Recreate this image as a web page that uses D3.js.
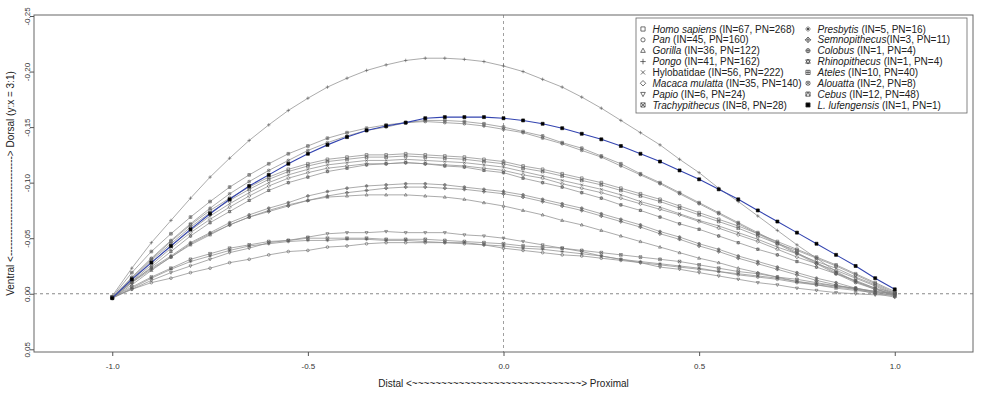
<!DOCTYPE html>
<html>
<head>
<meta charset="utf-8">
<script src="https://cdn.jsdelivr.net/npm/d3@7"></script>
<style>
  body { margin: 0; background: #fff; }
  svg { display: block; font-family: "Liberation Sans", Arial, sans-serif; }
</style>
</head>
<body>
<svg id="chart" width="1000" height="395"></svg>
<script>
// sample positions along the outline, distal (-1) to proximal (1)
const xs = d3.range(41).map(i => +(-1 + i * 0.05).toFixed(2));

// mean outlines, one array per taxon
const homoSapiens = [0.003, -0.014, -0.031, -0.047, -0.062, -0.075, -0.086, -0.096, -0.105, -0.112, -0.117, -0.121, -0.123, -0.125, -0.125, -0.126, -0.125, -0.124, -0.123, -0.121, -0.119, -0.115, -0.112, -0.108, -0.104, -0.100, -0.095, -0.090, -0.085, -0.079, -0.073, -0.067, -0.061, -0.054, -0.047, -0.040, -0.033, -0.026, -0.018, -0.010, -0.002];
const pan = [0.004, -0.004, -0.010, -0.014, -0.019, -0.023, -0.028, -0.031, -0.035, -0.038, -0.039, -0.042, -0.043, -0.045, -0.046, -0.046, -0.046, -0.046, -0.045, -0.044, -0.041, -0.039, -0.037, -0.035, -0.034, -0.032, -0.030, -0.028, -0.026, -0.024, -0.022, -0.020, -0.017, -0.015, -0.013, -0.010, -0.008, -0.006, -0.004, -0.002, 0.000];
const gorilla = [0.004, -0.008, -0.021, -0.033, -0.044, -0.053, -0.062, -0.069, -0.075, -0.080, -0.084, -0.087, -0.088, -0.089, -0.089, -0.089, -0.088, -0.087, -0.085, -0.082, -0.079, -0.075, -0.071, -0.066, -0.062, -0.057, -0.052, -0.047, -0.042, -0.037, -0.032, -0.028, -0.023, -0.019, -0.015, -0.011, -0.008, -0.005, -0.003, -0.001, 0.001];
const pongo = [0.002, -0.023, -0.046, -0.066, -0.086, -0.105, -0.122, -0.138, -0.152, -0.165, -0.176, -0.186, -0.194, -0.201, -0.206, -0.210, -0.212, -0.212, -0.211, -0.209, -0.205, -0.200, -0.193, -0.186, -0.177, -0.167, -0.156, -0.145, -0.134, -0.121, -0.109, -0.095, -0.083, -0.070, -0.057, -0.044, -0.032, -0.020, -0.011, -0.004, 0.001];
const hylobatidae = [0.003, -0.012, -0.028, -0.043, -0.057, -0.070, -0.081, -0.091, -0.100, -0.107, -0.112, -0.116, -0.118, -0.120, -0.120, -0.121, -0.120, -0.119, -0.118, -0.116, -0.114, -0.110, -0.106, -0.102, -0.098, -0.094, -0.089, -0.083, -0.078, -0.072, -0.066, -0.061, -0.055, -0.049, -0.042, -0.036, -0.029, -0.023, -0.015, -0.008, 0.000];
const macaca = [0.003, -0.011, -0.026, -0.041, -0.055, -0.067, -0.078, -0.088, -0.097, -0.104, -0.109, -0.113, -0.115, -0.117, -0.117, -0.118, -0.117, -0.116, -0.115, -0.113, -0.111, -0.107, -0.104, -0.099, -0.095, -0.091, -0.086, -0.081, -0.076, -0.071, -0.065, -0.059, -0.053, -0.047, -0.040, -0.033, -0.027, -0.021, -0.014, -0.007, 0.001];
const papio = [0.003, -0.004, -0.012, -0.019, -0.025, -0.031, -0.037, -0.041, -0.046, -0.048, -0.051, -0.054, -0.055, -0.055, -0.056, -0.055, -0.055, -0.055, -0.053, -0.052, -0.050, -0.047, -0.044, -0.041, -0.038, -0.034, -0.031, -0.028, -0.024, -0.022, -0.019, -0.016, -0.013, -0.010, -0.008, -0.005, -0.003, -0.001, 0.000, 0.001, 0.001];
const trachypithecus = [0.003, -0.006, -0.015, -0.023, -0.031, -0.036, -0.041, -0.044, -0.047, -0.048, -0.050, -0.050, -0.050, -0.050, -0.049, -0.049, -0.049, -0.048, -0.047, -0.046, -0.045, -0.043, -0.042, -0.041, -0.039, -0.037, -0.035, -0.033, -0.031, -0.029, -0.026, -0.023, -0.020, -0.018, -0.015, -0.013, -0.010, -0.007, -0.005, -0.002, 0.000];
const presbytis = [0.004, -0.005, -0.014, -0.022, -0.029, -0.034, -0.039, -0.043, -0.045, -0.047, -0.048, -0.048, -0.049, -0.049, -0.048, -0.048, -0.047, -0.046, -0.046, -0.044, -0.043, -0.041, -0.040, -0.038, -0.036, -0.034, -0.031, -0.029, -0.027, -0.025, -0.023, -0.020, -0.018, -0.016, -0.014, -0.011, -0.009, -0.007, -0.005, -0.002, 0.000];
const semnopithecus = [0.004, -0.010, -0.022, -0.033, -0.045, -0.054, -0.062, -0.069, -0.074, -0.079, -0.084, -0.088, -0.091, -0.093, -0.095, -0.096, -0.096, -0.095, -0.094, -0.092, -0.090, -0.087, -0.083, -0.079, -0.075, -0.070, -0.065, -0.060, -0.054, -0.049, -0.043, -0.038, -0.032, -0.027, -0.022, -0.017, -0.012, -0.008, -0.004, 0.000, 0.003];
const colobus = [0.004, -0.011, -0.023, -0.034, -0.046, -0.055, -0.064, -0.071, -0.077, -0.082, -0.088, -0.092, -0.095, -0.097, -0.098, -0.099, -0.099, -0.098, -0.096, -0.094, -0.092, -0.089, -0.085, -0.081, -0.077, -0.072, -0.067, -0.062, -0.056, -0.051, -0.045, -0.040, -0.034, -0.029, -0.024, -0.019, -0.014, -0.010, -0.005, -0.001, 0.002];
const rhinopithecus = [0.004, -0.010, -0.024, -0.038, -0.052, -0.064, -0.074, -0.084, -0.093, -0.100, -0.105, -0.110, -0.113, -0.116, -0.117, -0.118, -0.117, -0.115, -0.114, -0.111, -0.109, -0.104, -0.100, -0.096, -0.091, -0.086, -0.080, -0.075, -0.069, -0.063, -0.058, -0.052, -0.046, -0.040, -0.035, -0.029, -0.024, -0.018, -0.012, -0.005, 0.002];
const ateles = [0.003, -0.019, -0.038, -0.054, -0.069, -0.083, -0.096, -0.107, -0.117, -0.126, -0.133, -0.140, -0.145, -0.149, -0.152, -0.154, -0.156, -0.156, -0.155, -0.153, -0.150, -0.146, -0.142, -0.136, -0.131, -0.124, -0.117, -0.108, -0.100, -0.091, -0.082, -0.073, -0.064, -0.055, -0.046, -0.037, -0.028, -0.019, -0.011, -0.005, -0.001];
const alouatta = [0.004, -0.015, -0.032, -0.048, -0.063, -0.077, -0.090, -0.101, -0.111, -0.120, -0.129, -0.136, -0.142, -0.147, -0.150, -0.154, -0.155, -0.154, -0.153, -0.151, -0.148, -0.145, -0.140, -0.135, -0.129, -0.123, -0.115, -0.107, -0.099, -0.090, -0.081, -0.072, -0.063, -0.054, -0.045, -0.036, -0.027, -0.018, -0.010, -0.004, 0.000];
const cebus = [0.003, -0.013, -0.030, -0.045, -0.060, -0.073, -0.084, -0.094, -0.103, -0.110, -0.115, -0.119, -0.121, -0.123, -0.123, -0.124, -0.123, -0.122, -0.121, -0.119, -0.117, -0.113, -0.110, -0.106, -0.102, -0.098, -0.093, -0.088, -0.083, -0.077, -0.071, -0.065, -0.059, -0.052, -0.045, -0.039, -0.032, -0.025, -0.017, -0.009, -0.001];
const lufengensis = [0.004, -0.013, -0.028, -0.043, -0.058, -0.072, -0.085, -0.097, -0.107, -0.117, -0.126, -0.134, -0.141, -0.147, -0.151, -0.154, -0.158, -0.159, -0.159, -0.159, -0.158, -0.156, -0.153, -0.149, -0.144, -0.139, -0.133, -0.126, -0.119, -0.111, -0.103, -0.094, -0.085, -0.075, -0.065, -0.055, -0.045, -0.035, -0.025, -0.014, -0.004];

// legend entries, in legend order
const taxa = ["Homo sapiens", "Pan", "Gorilla", "Pongo", "Hylobatidae", "Macaca mulatta", "Papio", "Trachypithecus",
              "Presbytis", "Semnopithecus", "Colobus", "Rhinopithecus", "Ateles", "Alouatta", "Cebus", "L. lufengensis"];
const individuals = [67, 45, 36, 41, 56, 35, 6, 8, 5, 3, 1, 1, 10, 2, 12, 1];
const profilesN = [268, 160, 122, 162, 222, 140, 24, 28, 16, 11, 4, 4, 40, 8, 48, 1];
const curves = [homoSapiens, pan, gorilla, pongo, hylobatidae, macaca, papio, trachypithecus,
                presbytis, semnopithecus, colobus, rhinopithecus, ateles, alouatta, cebus, lufengensis];

const xTicks = [-1.0, -0.5, 0.0, 0.5, 1.0];
const yTicks = [-0.25, -0.20, -0.15, -0.10, -0.05, 0.00, 0.05];

// plot region
const plotLeft = 34, plotRight = 973, plotTop = 15, plotBottom = 352;

const svg = d3.select('#chart');

const x = d3.scaleLinear().domain([-1.2, 1.2]).range([plotLeft, plotRight]);
const y = d3.scaleLinear().domain([-0.25, 0.05]).range([16, 349.3]);

// R style point symbols, pch 0..15
function symbolPath(pch, r) {
    const sq = `M${-r},${-r}h${2 * r}v${2 * r}h${-2 * r}Z`;
    const circ = `M${r},0A${r},${r} 0 1,1 ${-r},0A${r},${r} 0 1,1 ${r},0Z`;
    const plus = `M${-r},0H${r}M0,${-r}V${r}`;
    const k = r * 0.75;
    const cross = `M${-r},${-r}L${r},${r}M${-r},${r}L${r},${-r}`;
    const smallCross = `M${-k},${-k}L${k},${k}M${-k},${k}L${k},${-k}`;
    const d = r * 1.3;
    const bigPlus = `M${-d},0H${d}M0,${-d}V${d}`;
    const diam = `M0,${-d}L${d},0L0,${d}L${-d},0Z`;
    const tri = `M0,${-r * 1.2}L${r * 1.1},${r * 0.8}L${-r * 1.1},${r * 0.8}Z`;
    const triDown = `M0,${r * 1.2}L${r * 1.1},${-r * 0.8}L${-r * 1.1},${-r * 0.8}Z`;
    switch (pch) {
        case 0: return sq;
        case 1: return circ;
        case 2: return tri;
        case 3: return bigPlus;
        case 4: return cross;
        case 5: return diam;
        case 6: return triDown;
        case 7: return sq + cross;
        case 8: return bigPlus + smallCross;
        case 9: return diam + bigPlus;
        case 10: return circ + plus;
        case 11: return tri + triDown;
        case 12: return sq + plus;
        case 13: return circ + smallCross;
        case 14: return sq + `M${-r},${r}L0,${-r}L${r},${r}`;
        default: return sq;
    }
}

// reference lines through the origin
svg.append('line')
    .attr('x1', plotLeft).attr('x2', plotRight)
    .attr('y1', y(0)).attr('y2', y(0))
    .attr('stroke', '#888').attr('stroke-width', 1)
    .attr('stroke-dasharray', '3,3');
svg.append('line')
    .attr('x1', x(0)).attr('x2', x(0))
    .attr('y1', plotTop).attr('y2', plotBottom)
    .attr('stroke', '#888').attr('stroke-width', 0.8)
    .attr('stroke-dasharray', '3,3');

// outlines, the fossil drawn last so it sits on top
const line = d3.line()
    .x((d, i) => x(xs[i]))
    .y(d => y(d));

curves.forEach((values, i) => {
    const isFossil = i === 15;
    const g = svg.append('g');
    g.append('path')
        .datum(values)
        .attr('fill', 'none')
        .attr('stroke', isFossil ? '#3344b0' : '#8f8f8f')
        .attr('stroke-width', isFossil ? 1.1 : 0.75)
        .attr('d', line);
    g.selectAll('path.pt')
        .data(values)
        .enter()
        .append('path')
        .attr('class', 'pt')
        .attr('transform', (d, j) => `translate(${x(xs[j])},${y(d)})`)
        .attr('d', symbolPath(i, isFossil ? 1.5 : 1.35))
        .attr('fill', isFossil ? '#000' : 'none')
        .attr('stroke', isFossil ? '#000' : '#5a5a5a')
        .attr('stroke-width', 0.6);
});

// frame
svg.append('rect')
    .attr('x', plotLeft).attr('y', plotTop)
    .attr('width', plotRight - plotLeft).attr('height', plotBottom - plotTop)
    .attr('fill', 'none')
    .attr('stroke', '#666')
    .attr('stroke-width', 1);

// axes
const xAxis = svg.append('g')
    .attr('transform', `translate(0,${plotBottom})`)
    .call(d3.axisBottom(x).tickValues(xTicks).tickSize(4).tickFormat(d => d.toFixed(1)));
xAxis.select('.domain').remove();
xAxis.selectAll('line').attr('stroke', '#555');
xAxis.selectAll('text')
    .attr('y', 11)
    .attr('fill', '#333')
    .style('font-size', '8px')
    .style('font-family', '"Liberation Sans", Arial, sans-serif');

const yAxis = svg.append('g')
    .attr('transform', `translate(${plotLeft},0)`)
    .call(d3.axisLeft(y).tickValues(yTicks).tickSize(4).tickFormat(d => d.toFixed(2)));
yAxis.select('.domain').remove();
yAxis.selectAll('line').attr('stroke', '#555');
yAxis.selectAll('text')
    .attr('x', 0).attr('y', 0).attr('dy', null)
    .attr('transform', 'translate(-4.5,0) rotate(-90)')
    .attr('text-anchor', 'middle')
    .attr('fill', '#333')
    .style('font-size', '8px')
    .style('font-family', '"Liberation Sans", Arial, sans-serif');

// axis titles
svg.append('text')
    .attr('x', x(0)).attr('y', 387)
    .attr('text-anchor', 'middle')
    .attr('fill', '#222')
    .style('font-size', '10px')
    .text('Distal <' + '~'.repeat(29) + '> Proximal');

svg.append('text')
    .attr('transform', `translate(13.5,${(plotTop + plotBottom) / 2}) rotate(-90)`)
    .attr('text-anchor', 'middle')
    .attr('fill', '#222')
    .style('font-size', '10px')
    .text('Ventral <' + '-'.repeat(30) + '> Dorsal (y:x = 3:1)');

// legend
const legend = svg.append('g');
legend.append('rect')
    .attr('x', 636).attr('y', 18)
    .attr('width', 331).attr('height', 95)
    .attr('fill', '#fff')
    .attr('stroke', '#666')
    .attr('stroke-width', 0.8);

taxa.forEach((name, i) => {
    const col = Math.floor(i / 8), row = i % 8;
    const lx = col === 0 ? 643 : 808;
    const ly = 29 + row * 10.85;
    legend.append('path')
        .attr('transform', `translate(${lx},${ly})`)
        .attr('d', symbolPath(i, 2.1))
        .attr('fill', i === 15 ? '#000' : 'none')
        .attr('stroke', '#333')
        .attr('stroke-width', 0.7);
    const t = legend.append('text')
        .attr('x', lx + 9.5).attr('y', ly + 3.6)
        .attr('fill', '#222')
        .style('font-size', '10px');
    t.append('tspan')
        .style('font-style', name === 'Hylobatidae' ? 'normal' : 'italic')
        .text(name);
    const gap = name === 'Semnopithecus' ? '' : ' ';
    t.append('tspan')
        .text(`${gap}(IN=${individuals[i]}, PN=${profilesN[i]})`);
});
</script>
</body>
</html>
